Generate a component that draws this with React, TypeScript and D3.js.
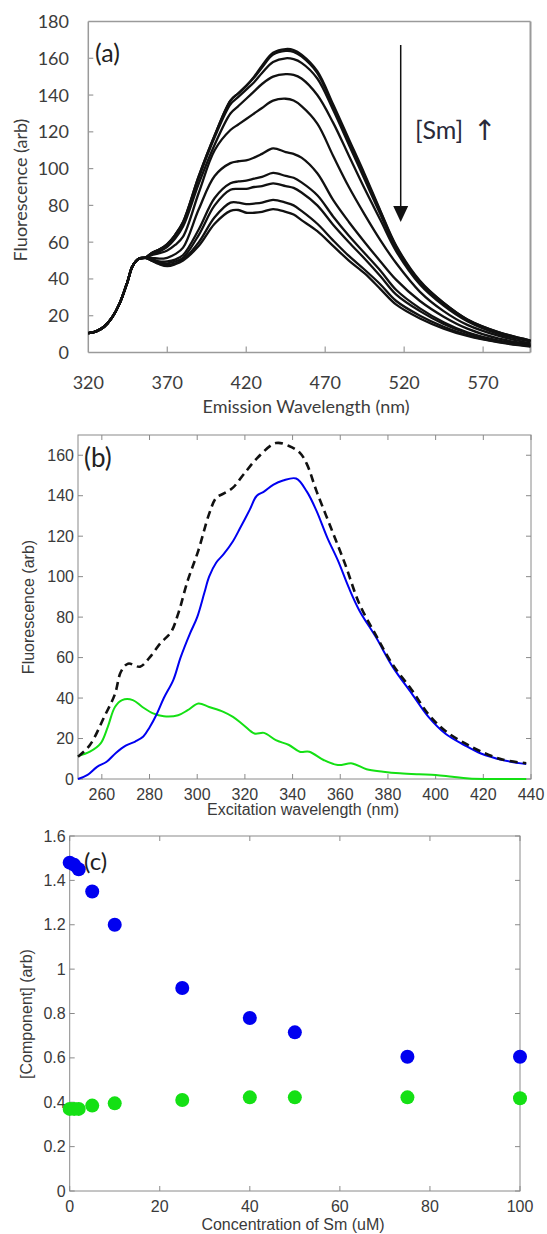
import React from 'react';
import * as d3 from 'd3';

// ---------- Panel (a): emission spectra ----------
const emHeadWl = [320, 325, 330, 335, 340, 345, 348, 352, 356];
const emHead = [10.5, 11.5, 14, 19, 27, 39, 47, 51, 51.5];
const emTailWl = [360, 365, 370, 375, 380, 390, 400, 410, 415, 420, 425, 430, 437, 445, 450, 455, 465, 475, 485, 495, 505, 515, 530, 545, 560, 580, 600];
const emCurve1 = [54, 56, 59, 64, 71, 96, 118, 137, 141, 145, 150, 156, 163, 165, 164.5, 162, 153, 135, 116, 97, 77, 58, 39, 27, 18, 11, 6.5];
const emCurve2 = [54, 56, 59, 64, 71, 96, 118, 137, 141, 145, 149.5, 155, 162, 164, 163.5, 161, 152, 134, 115, 96, 76.5, 57.5, 38.5, 27, 18, 11, 6.5];
const emCurve3 = [54, 56, 58.5, 63, 70, 95, 117, 135, 139, 143, 147, 152, 158, 160, 159.5, 157.5, 149, 132, 113, 94, 75, 56.5, 38, 26.5, 17.5, 10.5, 6];
const emCurve4 = [53.5, 55, 57.5, 62, 68.5, 92, 113, 130, 134, 138, 142, 146, 150, 151.4, 151, 149, 140, 125, 107, 89, 72, 55, 37, 25.5, 17, 10, 6];
const emCurve5 = [53, 54, 55.5, 58.5, 63, 87, 110, 121, 124, 127, 130, 133, 137, 138, 137, 134, 124.5, 107, 90, 75, 61, 48.5, 33, 22.5, 15, 9, 5];
const emCurve6 = [51.5, 51, 51.5, 53.5, 57, 78, 96, 103, 104, 104.5, 106, 108, 111, 109, 108, 106, 97.5, 83, 71, 60, 49.5, 39.5, 28, 19.5, 13, 7.5, 4.5];
const emCurve7 = [51, 49.5, 49.5, 50.5, 53, 67, 84, 92, 93, 93.5, 94.5, 95.5, 97.7, 96, 95, 92.5, 85.5, 74, 63.5, 54, 44.5, 34, 24, 16.5, 11, 6.5, 4];
const emCurve8 = [50.5, 49, 48.5, 49.5, 51.5, 64, 80, 88.5, 89, 89, 90, 90.5, 92, 90.5, 89.5, 87, 80, 69.5, 60, 51, 41.5, 31.5, 22.5, 15.5, 10.5, 6.2, 3.7];
const emCurve9 = [50, 48.5, 47.5, 48.5, 50.5, 60, 73.5, 81.5, 81.5, 80.7, 81, 81.5, 83, 81.5, 80, 77, 70, 61, 52.5, 45, 37, 28, 20, 14, 9.5, 5.8, 3.5];
const emCurve10 = [50, 48, 47, 48, 50, 58, 70, 77, 77.5, 76, 76, 76.5, 78, 76.5, 75, 72, 66, 58, 50, 43, 34.5, 26, 18.5, 13, 9, 5.5, 3.2];
const emCurves = [emCurve1, emCurve2, emCurve3, emCurve4, emCurve5, emCurve6, emCurve7, emCurve8, emCurve9, emCurve10];
const aXTicks = [320, 370, 420, 470, 520, 570];
const aYTicks = [0, 20, 40, 60, 80, 100, 120, 140, 160, 180];

// ---------- Panel (b): excitation components ----------
const sumX = [250, 255, 261, 265.5, 268, 271, 276, 280, 284.5, 289, 292, 296, 300.5, 305, 308, 311, 315, 319.5, 325.5, 333, 338.5, 343, 346, 350, 356, 362, 368, 375, 382, 390, 397, 404, 412, 419, 428, 438];
const sumY = [11, 16.8, 30.7, 42, 53, 57, 55.5, 60, 67, 72.6, 81.6, 98, 113, 131, 139, 141, 144, 150.6, 159, 166, 164.6, 161.3, 155.6, 142.4, 124.4, 106.3, 86.6, 71, 56.5, 44, 32, 23.8, 17.8, 13.6, 9.6, 7.8];
const blueX = [250, 254, 258, 262, 266, 270, 274, 277.4, 280, 283, 286, 290, 293, 297, 300, 303, 305, 308, 311, 315, 318, 322, 325, 328, 332, 336, 341.5, 346, 350, 354.5, 359, 363.5, 368, 375, 382, 390, 397, 404, 412, 419, 428, 438];
const blueY = [0, 2, 6, 8.5, 13, 16.5, 18.5, 21, 25.5, 32, 40, 49, 60, 72, 80, 92, 100, 107, 111, 117.5, 124, 133, 140, 142, 145.5, 147.5, 148.5, 142, 132.6, 119.4, 108, 94.8, 83.3, 70, 55.4, 42.2, 30.7, 22.5, 16.8, 12.6, 9.4, 7.4];
const greenX = [250, 255, 259.5, 262.5, 265.5, 268.5, 273, 277, 281.5, 286, 292, 296, 300.5, 305, 311, 315, 319.5, 324, 328, 333, 338.5, 343, 347, 353, 359, 365, 371, 378, 385, 393, 400, 407, 414, 438];
const greenY = [11.3, 13.5, 17.6, 25.8, 35.6, 39, 39, 35.6, 32.4, 31, 31.5, 34, 37.3, 35.6, 33.2, 30.7, 26.6, 22.5, 22.8, 19.2, 16.8, 13.5, 13.5, 9.4, 6.9, 7.7, 4.8, 3.6, 2.8, 2.3, 2, 1.1, 0.3, 0];
const bXTicks = [260, 280, 300, 320, 340, 360, 380, 400, 420, 440];
const bYTicks = [0, 20, 40, 60, 80, 100, 120, 140, 160];

// ---------- Panel (c): component concentrations ----------
const conc = [0, 1, 2, 5, 10, 25, 40, 50, 75, 100];
const blueComp = [1.48, 1.47, 1.45, 1.35, 1.2, 0.915, 0.78, 0.715, 0.605, 0.605];
const greenComp = [0.37, 0.37, 0.37, 0.385, 0.395, 0.41, 0.422, 0.422, 0.422, 0.418];
const cXTicks = [0, 20, 40, 60, 80, 100];
const cYTicks = [0, 0.2, 0.4, 0.6, 0.8, 1, 1.2, 1.4, 1.6];

const GREEN = '#14e014';
const BLUE = '#0000f0';

function zip(xs: number[], ys: number[]) {
  return xs.map((x, i) => [x, ys[i]] as [number, number]);
}

function MatlabFrame({ x, y, xTicks, yTicks, xFmt, yFmt }: any) {
  const [x0, x1] = x.range();
  const [y0, y1] = y.range(); // y0 bottom, y1 top
  const tl = 5;
  const col = '#8a8a8a';
  const font = "'Liberation Sans', Arial, sans-serif";
  return (
    <g>
      <rect x={x0} y={y1} width={x1 - x0} height={y0 - y1} fill="none" stroke={col} strokeWidth={1} />
      {xTicks.map((t: number) => (
        <g key={'x' + t}>
          <line x1={x(t)} x2={x(t)} y1={y0} y2={y0 - tl} stroke={col} />
          <line x1={x(t)} x2={x(t)} y1={y1} y2={y1 + tl} stroke={col} />
          <text x={x(t)} y={y0 + 21} textAnchor="middle" fontFamily={font} fontSize={16} fill="#3a3a3a">{xFmt(t)}</text>
        </g>
      ))}
      {yTicks.map((t: number) => (
        <g key={'y' + t}>
          <line x1={x0} x2={x0 + tl} y1={y(t)} y2={y(t)} stroke={col} />
          <line x1={x1} x2={x1 - tl} y1={y(t)} y2={y(t)} stroke={col} />
          <text x={x0 - 4} y={y(t) + 5.5} textAnchor="end" fontFamily={font} fontSize={16} fill="#3a3a3a">{yFmt(t)}</text>
        </g>
      ))}
    </g>
  );
}

export default function App() {
  // Panel a scales
  const ax = d3.scaleLinear().domain([320, 600]).range([88.3, 530.5]);
  const ay = d3.scaleLinear().domain([0, 180]).range([352.5, 21.5]);
  const emWl = emHeadWl.concat(emTailWl);
  const aLine = d3.line<[number, number]>().x(d => ax(d[0])).y(d => ay(d[1])).curve(d3.curveCatmullRom.alpha(0.5));

  // Panel b scales
  const bx = d3.scaleLinear().domain([250, 440]).range([78, 531]);
  const by = d3.scaleLinear().domain([0, 170]).range([779, 435]);
  const bLine = d3.line<[number, number]>().x(d => bx(d[0])).y(d => by(d[1])).curve(d3.curveCatmullRom.alpha(0.5));

  // Panel c scales
  const cx = d3.scaleLinear().domain([0, 100]).range([69.7, 520]);
  const cy = d3.scaleLinear().domain([0, 1.6]).range([1191, 836]);

  const calibri = "Lato, 'Open Sans', sans-serif";
  const arial = "'Liberation Sans', Arial, sans-serif";
  const aGray = '#9a9a9a';

  return (
    <svg width={547} height={1234} style={{ position: 'absolute', left: 0, top: 0, background: '#fff' }}>
      <rect x={0} y={0} width={547} height={1234} fill="#fff" />

      {/* ---------------- Panel (a) ---------------- */}
      <g>
        <line x1={ax(320)} x2={ax(600)} y1={ay(180)} y2={ay(180)} stroke={aGray} strokeWidth={1.5} />
        <line x1={ax(600)} x2={ax(600)} y1={ay(180)} y2={ay(0)} stroke={aGray} strokeWidth={2} />
        <line x1={ax(320)} x2={ax(320)} y1={ay(180)} y2={ay(0)} stroke={aGray} strokeWidth={1.5} />
        <line x1={ax(320)} x2={ax(600)} y1={ay(0)} y2={ay(0)} stroke={aGray} strokeWidth={1.5} />
        {aXTicks.map(t => (
          <g key={'ax' + t}>
            {t !== 320 && <line x1={ax(t)} x2={ax(t)} y1={ay(0)} y2={ay(0) - 6} stroke={aGray} strokeWidth={1.2} />}
            <text x={ax(t)} y={389} textAnchor="middle" fontFamily={calibri} fontSize={18} fill="#3c3c3c">{t}</text>
          </g>
        ))}
        {aYTicks.map(t => (
          <g key={'ay' + t}>
            {t !== 0 && t !== 180 && <line x1={ax(320)} x2={ax(320) + 5} y1={ay(t)} y2={ay(t)} stroke={aGray} strokeWidth={1.2} />}
            <text x={69} y={ay(t) + 6.5} textAnchor="end" fontFamily={calibri} fontSize={18} fill="#3c3c3c">{t}</text>
          </g>
        ))}
        <text x={306} y={413} textAnchor="middle" fontFamily={calibri} fontSize={18} fill="#3c3c3c">Emission Wavelength (nm)</text>
        <text transform="translate(27,190) rotate(-90)" textAnchor="middle" fontFamily={calibri} fontSize={18} fill="#3c3c3c">Fluorescence (arb)</text>
        {emCurves.map((c, i) => (
          <path key={'em' + i} d={aLine(zip(emWl, emHead.concat(c))) || ''} fill="none" stroke="#111" strokeWidth={2.3} strokeLinejoin="round" />
        ))}
        <text x={95} y={62} fontFamily={calibri} fontSize={25} fill="#222">(a)</text>
        <line x1={400.7} x2={400.7} y1={45} y2={208} stroke="#111" strokeWidth={1.5} />
        <path d="M393.2,206 L408.2,206 L400.7,222 Z" fill="#111" />
        <text x={415} y={139} fontFamily={calibri} fontSize={25} fill="#2a2a3a">[Sm]</text>
        <text x={473} y={140} fontFamily="'DejaVu Sans', sans-serif" fontSize={28} fill="#2a2a3a">↑</text>
      </g>

      {/* ---------------- Panel (b) ---------------- */}
      <g>
        <MatlabFrame x={bx} y={by} xTicks={bXTicks} yTicks={bYTicks} xFmt={(t: number) => String(t)} yFmt={(t: number) => String(t)} />
        <path d={bLine(zip(greenX, greenY)) || ''} fill="none" stroke={GREEN} strokeWidth={2} />
        <path d={bLine(zip(blueX, blueY)) || ''} fill="none" stroke={BLUE} strokeWidth={2} />
        <path d={bLine(zip(sumX, sumY)) || ''} fill="none" stroke="#111" strokeWidth={2.6} strokeDasharray="8,5" />
        <text x={303} y={815} textAnchor="middle" fontFamily={arial} fontSize={16} fill="#3a3a3a">Excitation wavelength (nm)</text>
        <text transform="translate(34,607) rotate(-90)" textAnchor="middle" fontFamily={arial} fontSize={16} fill="#3a3a3a">Fluorescence (arb)</text>
        <text x={84} y={467} fontFamily={calibri} fontSize={26} fill="#222">(b)</text>
      </g>

      {/* ---------------- Panel (c) ---------------- */}
      <g>
        <MatlabFrame x={cx} y={cy} xTicks={cXTicks} yTicks={cYTicks} xFmt={(t: number) => String(t)} yFmt={(t: number) => String(+t.toFixed(1))} />
        {conc.map((c, i) => (
          <circle key={'g' + i} cx={cx(c)} cy={cy(greenComp[i])} r={7} fill={GREEN} />
        ))}
        {conc.map((c, i) => (
          <circle key={'b' + i} cx={cx(c)} cy={cy(blueComp[i])} r={7} fill={BLUE} />
        ))}
        <text x={293} y={1230} textAnchor="middle" fontFamily={arial} fontSize={16} fill="#3a3a3a">Concentration of Sm (uM)</text>
        <text transform="translate(32,1014) rotate(-90)" textAnchor="middle" fontFamily={arial} fontSize={16} fill="#3a3a3a">[Component] (arb)</text>
        <text x={84} y={870} fontFamily={calibri} fontSize={24} fill="#222">(c)</text>
      </g>
    </svg>
  );
}
